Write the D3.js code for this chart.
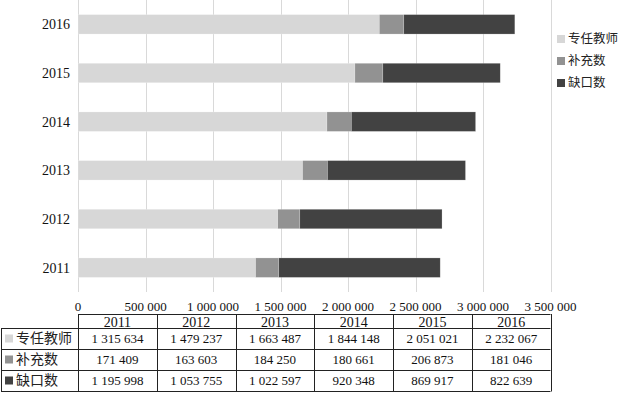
<!DOCTYPE html>
<html>
<head>
<meta charset="utf-8">
<script src="https://cdn.jsdelivr.net/npm/d3@7/dist/d3.min.js"></script>
<style>
  html, body { margin: 0; padding: 0; background: #fff; }
  svg { display: block; }
  .num { font-family: "Liberation Serif", "Times New Roman", serif; font-size: 13px; fill: #111; }
  .yr { font-size: 14px; }
  .cjk { font-family: "Noto Sans CJK SC", sans-serif; fill: #222; }
  .grid line { stroke: #d9d9d9; stroke-width: 1; }
  .tbl line { stroke: #222; stroke-width: 1; }
</style>
</head>
<body>
<svg id="chart" width="624" height="397"></svg>
<script>
// 年份（从下到上为 2011 → 2016）
const years = ['2011', '2012', '2013', '2014', '2015', '2016'];
// 系列名
const seriesNames = ['专任教师', '补充数', '缺口数'];
// 各系列数值
const teachers = [1315634, 1479237, 1663487, 1844148, 2051021, 2232067];
const supplement = [171409, 163603, 184250, 180661, 206873, 181046];
const shortage = [1195998, 1053755, 1022597, 920348, 869917, 822639];
// x 轴刻度
const xTicks = [0, 500000, 1000000, 1500000, 2000000, 2500000, 3000000, 3500000];

const colors = ['#d7d7d7', '#929292', '#424242'];

const svg = d3.select('#chart');

const plot = { left: 78, right: 550.5, top: 0, bottom: 292 };

let x = d3.scaleLinear()
  .domain([0, 3500000])
  .range([plot.left, plot.right]);

// 2016 在上
let y = d3.scaleBand()
  .domain(years.slice().reverse())
  .range([plot.top, plot.bottom])
  .paddingInner(0.6)
  .paddingOuter(0.3);

// 数字格式：空格分隔千位
let fmt = d3.format(',');
let fmtSp = function(v) { return fmt(v).replace(/,/g, ' '); };

// 竖向网格线
svg.append('g')
  .attr('class', 'grid')
  .selectAll('line')
  .data(xTicks)
  .join('line')
  .attr('x1', d => Math.round(x(d)) + 0.5)
  .attr('x2', d => Math.round(x(d)) + 0.5)
  .attr('y1', plot.top)
  .attr('y2', plot.bottom);

// 堆叠数据
let rows = years.map(function(yr, i) {
  return { year: yr, a: teachers[i], b: supplement[i], c: shortage[i] };
});
let stack = d3.stack().keys(['a', 'b', 'c']);
let stacked = stack(rows);

svg.append('g')
  .selectAll('g')
  .data(stacked)
  .join('g')
  .attr('fill', (d, i) => colors[i])
  .selectAll('rect')
  .data(d => d)
  .join('rect')
  .attr('x', d => x(d[0]))
  .attr('width', d => x(d[1]) - x(d[0]))
  .attr('y', d => y(d.data.year))
  .attr('height', y.bandwidth())
  .attr('stroke', '#ffffff')
  .attr('stroke-opacity', 0.35)
  .attr('stroke-width', 0.6);

// 年份标签
svg.append('g')
  .selectAll('text')
  .data(years)
  .join('text')
  .attr('class', 'num yr')
  .attr('x', 70)
  .attr('y', d => y(d) + y.bandwidth() / 2)
  .attr('dy', '0.35em')
  .attr('text-anchor', 'end')
  .text(d => d);

// x 轴刻度标签
svg.append('g')
  .selectAll('text')
  .data(xTicks)
  .join('text')
  .attr('class', 'num')
  .attr('x', d => x(d))
  .attr('y', 306)
  .attr('dy', '0.35em')
  .attr('text-anchor', 'middle')
  .text(d => fmtSp(d));

// 右侧图例
let legend = svg.append('g')
  .selectAll('g')
  .data(seriesNames)
  .join('g')
  .attr('transform', (d, i) => 'translate(557,' + (39 + i * 22) + ')');
legend.append('rect')
  .attr('x', 0)
  .attr('y', -4)
  .attr('width', 8)
  .attr('height', 8)
  .attr('fill', (d, i) => colors[i]);
legend.append('text')
  .attr('class', 'cjk')
  .attr('x', 11)
  .attr('dy', '0.35em')
  .style('font-size', '12.5px')
  .text(d => d);

// 数据表
let col = d3.scaleBand()
  .domain(years)
  .range([plot.left, plot.right]);

let rowY = [314, 328, 349, 370, 391];
let tableVals = [teachers, supplement, shortage];

let tbl = svg.append('g').attr('class', 'tbl');

// 横线
tbl.append('line')
  .attr('x1', plot.left).attr('x2', plot.right)
  .attr('y1', rowY[0] + 0.5).attr('y2', rowY[0] + 0.5);
rowY.slice(1).forEach(function(yy) {
  tbl.append('line')
    .attr('x1', 1).attr('x2', plot.right)
    .attr('y1', yy + 0.5).attr('y2', yy + 0.5);
});
// 竖线
tbl.append('line')
  .attr('x1', 1.5).attr('x2', 1.5)
  .attr('y1', rowY[1]).attr('y2', rowY[4] + 0.5);
years.forEach(function(yr) {
  tbl.append('line')
    .attr('x1', Math.round(col(yr)) + 0.5).attr('x2', Math.round(col(yr)) + 0.5)
    .attr('y1', rowY[0]).attr('y2', rowY[4] + 0.5);
});
tbl.append('line')
  .attr('x1', Math.round(plot.right) + 0.5).attr('x2', Math.round(plot.right) + 0.5)
  .attr('y1', rowY[0]).attr('y2', rowY[4] + 0.5);

// 表头
tbl.selectAll('text.head')
  .data(years)
  .join('text')
  .attr('class', 'num yr head')
  .attr('x', d => col(d) + col.bandwidth() / 2)
  .attr('y', (rowY[0] + rowY[1]) / 2 + 1)
  .attr('dy', '0.35em')
  .attr('text-anchor', 'middle')
  .text(d => d);

// 行标签
seriesNames.forEach(function(name, r) {
  let cy = (rowY[r + 1] + rowY[r + 2]) / 2;
  tbl.append('rect')
    .attr('x', 5).attr('y', cy - 4)
    .attr('width', 8).attr('height', 8)
    .attr('fill', colors[r]);
  tbl.append('text')
    .attr('class', 'cjk')
    .attr('x', 16)
    .attr('y', cy)
    .attr('dy', '0.35em')
    .style('font-size', '14px')
    .text(name);
  tbl.append('g')
    .selectAll('text')
    .data(tableVals[r])
    .join('text')
    .attr('class', 'num')
    .attr('x', (d, i) => col(years[i]) + col.bandwidth() / 2)
    .attr('y', cy)
    .attr('dy', '0.35em')
    .attr('text-anchor', 'middle')
    .text(d => fmtSp(d));
});
</script>
</body>
</html>
